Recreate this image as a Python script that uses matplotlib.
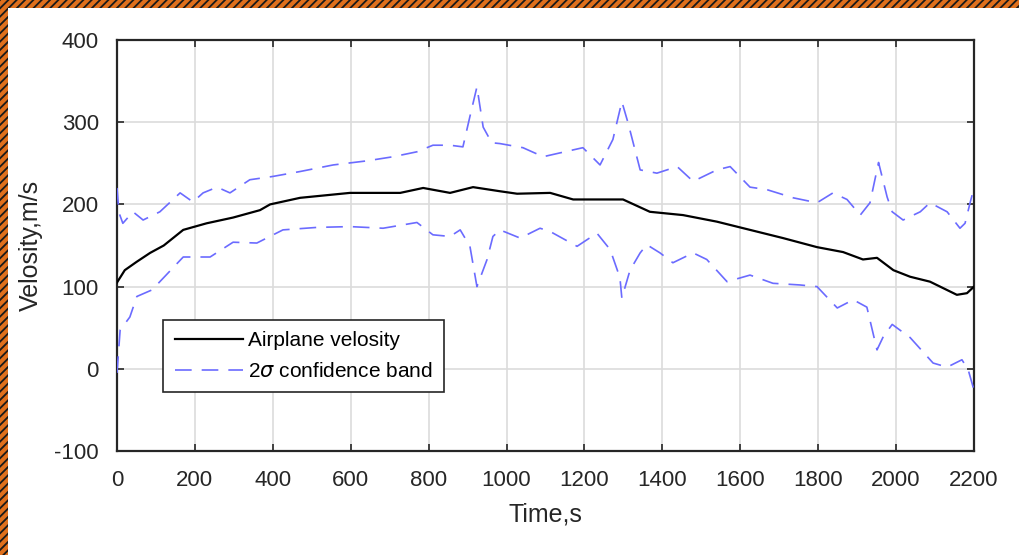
import matplotlib
matplotlib.use("Agg")
import matplotlib.pyplot as plt
from matplotlib.patches import Rectangle

plt.rcParams['font.family'] = ['Liberation Sans', 'DejaVu Sans']
plt.rcParams['axes.unicode_minus'] = False
plt.rcParams['hatch.linewidth'] = 1.3

# Data
t_vel = [0, 20, 50, 85, 120, 170, 230, 298, 367, 393, 470, 598, 727, 786, 855, 914,
         983, 1027, 1112, 1171, 1299, 1368, 1453, 1540, 1625, 1710, 1797, 1864, 1915,
         1951, 1993, 2036, 2087, 2156, 2182, 2200]
velocity = [105, 120, 130, 141, 150, 169, 177, 184, 193, 200, 208, 214, 214, 220, 214, 221,
            216, 213, 214, 206, 206, 191, 187, 179, 169, 159, 148, 142, 133,
            135, 120, 112, 106, 90, 92, 100]

t_up = [0, 5, 15, 41, 67, 110, 162, 195, 221, 257, 290, 341, 400, 470, 555, 642, 709,
        770, 811, 855, 888, 906, 924, 940, 962, 983, 1042, 1094, 1196, 1240, 1273, 1296,
        1312, 1343, 1386, 1438, 1479, 1540, 1574, 1625, 1668, 1736, 1797, 1838, 1874,
        1908, 1933, 1955, 1977, 1990, 2018, 2062, 2087, 2131, 2164, 2177, 2190, 2200]
upper = [220, 190, 177, 191, 181, 191, 214, 203, 214, 221, 214, 230, 234, 240, 248, 253, 258,
         264, 272, 272, 270, 307, 343, 294, 275, 274, 269, 258, 269, 248, 279, 325,
         299, 242, 238, 246, 228, 242, 246, 221, 218, 208, 202, 214, 206,
         187, 202, 251, 209, 191, 181, 191, 202, 191, 171, 177, 202, 220]

t_lo = [0, 8, 33, 51, 90, 128, 170, 239, 298, 359, 426, 513, 598, 683, 770, 811, 855,
        881, 906, 924, 950, 965, 983, 1035, 1086, 1112, 1181, 1232, 1266, 1291, 1296,
        1317, 1343, 1360, 1394, 1427, 1479, 1514, 1566, 1625, 1684, 1753, 1797, 1849,
        1890, 1925, 1951, 1967, 1990, 2036, 2095, 2131, 2169, 2185, 2200]
lower = [-5, 47, 63, 88, 96, 115, 136, 136, 154, 153, 169, 172, 173, 171, 178, 163, 161,
         169, 149, 100, 133, 161, 169, 159, 171, 167, 149, 165, 145, 111, 86,
         120, 141, 151, 141, 129, 141, 133, 106, 114, 104, 102, 100, 74,
         84, 75, 23, 39, 54, 38, 7, 2, 11, -1, -26]

x_ticks = list(range(0, 2201, 200))
y_ticks = list(range(-100, 401, 100))

fig = plt.figure(figsize=(10.19, 5.55), dpi=100)
fig.patch.set_facecolor('white')

# hatched border (top and left)
fig.patches.append(Rectangle((0, 1 - 8 / 555), 1, 8 / 555, transform=fig.transFigure,
                             facecolor='#e0701c', edgecolor='#1a1a1a', lw=0,
                             hatch='////', zorder=0))
fig.patches.append(Rectangle((0, 0), 7.5 / 1019, 1, transform=fig.transFigure,
                             facecolor='#e0701c', edgecolor='#1a1a1a', lw=0,
                             hatch='////', zorder=0))

ax = fig.add_axes([117 / 1019, 1 - 451 / 555, (974 - 117) / 1019, (451 - 40) / 555])

band_color = '#6b6bff'
ax.plot(t_vel, velocity, color='black', lw=1.6, label='Airplane velosity', zorder=3)
ax.plot(t_up, upper, color=band_color, lw=1.2, ls=(0, (10, 6)),
        label=r'2$\sigma$ confidence band', zorder=3)
ax.plot(t_lo, lower, color=band_color, lw=1.2, ls=(0, (10, 6)), zorder=3)

ax.set_xlim(0, 2200)
ax.set_ylim(-100, 400)
ax.set_xticks(x_ticks)
ax.set_yticks(y_ticks)
ax.grid(True, color='#dcdcdc', lw=1.2)
ax.set_axisbelow(True)
ax.tick_params(direction='in', top=True, right=True, length=5, width=1.2,
               labelsize=16, colors='#262626')
ax.tick_params(axis='x', pad=14)
ax.tick_params(axis='y', pad=13)
for s in ax.spines.values():
    s.set_color('#262626')
    s.set_linewidth(1.6)

ax.set_xlabel('Time,s', fontsize=18, color='#262626', labelpad=8)
ax.set_ylabel('Velosity,m/s', fontsize=18, color='#262626', labelpad=8)

leg = ax.legend(loc='upper left', bbox_to_anchor=(0.054, 0.319), fontsize=15,
                frameon=True, fancybox=False, edgecolor='#262626', framealpha=1,
                handlelength=3.3, handletextpad=0.2, borderpad=0.55, labelspacing=0.55,
                borderaxespad=0)
leg.get_frame().set_linewidth(1.2)

fig.savefig('out.png', dpi=100)
